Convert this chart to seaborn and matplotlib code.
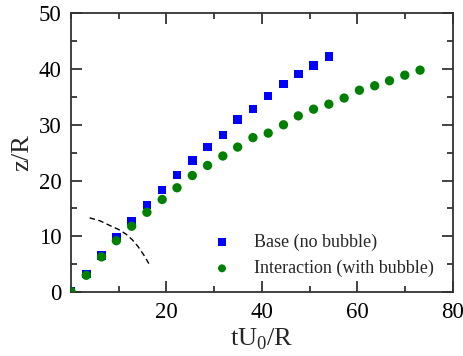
import matplotlib
matplotlib.use("Agg")
import matplotlib.pyplot as plt
import seaborn as sns
import pandas as pd
from matplotlib.ticker import MultipleLocator, FixedLocator

# Data
base_t = [0.0, 3.2, 6.4, 9.5, 12.7, 15.9, 19.1, 22.2, 25.4, 28.6, 31.8, 34.9,
          38.1, 41.3, 44.5, 47.6, 50.8, 54.0]
base_z = [0.1, 3.2, 6.5, 9.8, 12.7, 15.6, 18.3, 21.0, 23.6, 26.0, 28.2, 30.9,
          32.8, 35.2, 37.3, 39.1, 40.6, 42.2]

inter_t = [0.0, 3.2, 6.4, 9.5, 12.7, 15.9, 19.1, 22.2, 25.4, 28.6, 31.8, 34.9,
           38.1, 41.3, 44.5, 47.6, 50.8, 54.0, 57.2, 60.4, 63.6, 66.7, 69.9, 73.1]
inter_z = [0.1, 3.0, 6.3, 9.2, 11.8, 14.3, 16.6, 18.7, 20.9, 22.7, 24.4, 26.0,
           27.7, 28.5, 30.0, 31.6, 32.8, 33.7, 34.8, 36.2, 37.0, 37.9, 38.9, 39.8]

curve_x = [3.9, 6.0, 8.2, 10.0, 11.5, 12.8, 14.0, 15.2, 16.3]
curve_y = [13.3, 12.8, 11.9, 11.2, 10.4, 9.4, 8.2, 6.7, 5.1]

x_ticks = [20, 40, 60, 80]
y_ticks = [0, 10, 20, 30, 40, 50]

sns.set_theme(style="ticks")
plt.rcParams["font.family"] = ["Liberation Serif", "DejaVu Serif"]
plt.rcParams["mathtext.fontset"] = "custom"
plt.rcParams["mathtext.rm"] = "Liberation Serif"

fig = plt.figure(figsize=(4.64, 3.56), dpi=100)
ax = fig.add_axes([71 / 464, 1 - 292 / 356, 382 / 464, (292 - 13.3) / 356])

df_b = pd.DataFrame({"t": base_t, "z": base_z})
df_i = pd.DataFrame({"t": inter_t, "z": inter_z})
df_c = pd.DataFrame({"x": curve_x, "y": curve_y})

sns.scatterplot(data=df_b, x="t", y="z", marker="s", s=38, color="#0000ff",
                edgecolor="none", ax=ax, label="Base (no bubble)", zorder=3)
sns.scatterplot(data=df_i, x="t", y="z", marker="o", s=45, color="#008000",
                edgecolor="none", ax=ax, label="Interaction (with bubble)", zorder=4)
sns.lineplot(data=df_c, x="x", y="y", sort=False, estimator=None, color="black",
             linewidth=1.0, linestyle=(0, (4, 2.5)), ax=ax, legend=False)

ax.set_xlim(0, 80)
ax.set_ylim(0, 50)
ax.xaxis.set_major_locator(FixedLocator(x_ticks))
ax.yaxis.set_major_locator(FixedLocator(y_ticks))
ax.xaxis.set_minor_locator(MultipleLocator(10))
ax.yaxis.set_minor_locator(MultipleLocator(5))
ax.tick_params(which="both", direction="in", top=True, right=True,
               colors="#222222", labelcolor="black", width=1.2)
ax.tick_params(which="major", length=8, labelsize=16.5, pad=7)
ax.tick_params(which="minor", length=4)
for sp in ax.spines.values():
    sp.set_color("#333333")
    sp.set_linewidth(1.3)

ax.set_xlabel(r"tU$_\mathregular{0}$/R", fontsize=19, labelpad=3)
ax.set_ylabel("z/R", fontsize=19, labelpad=4)

leg = ax.legend(loc="upper left", bbox_to_anchor=(0.348, 0.21), frameon=False,
                fontsize=13, borderpad=0, borderaxespad=0, labelspacing=0.5,
                handletextpad=0.8, markerscale=0.85)

fig.savefig("out.png", dpi=100)
